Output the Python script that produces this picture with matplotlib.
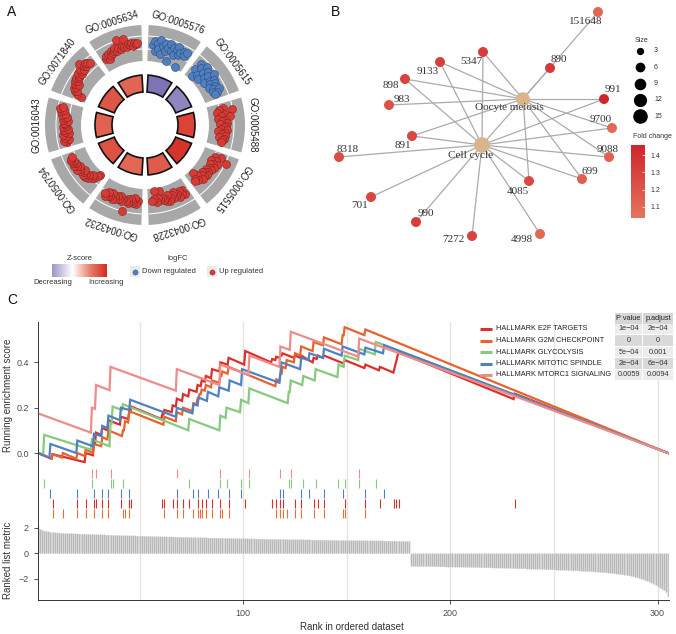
import numpy as np
import matplotlib
matplotlib.use('Agg')
import matplotlib.pyplot as plt
from matplotlib.patches import Wedge, Rectangle
from matplotlib.colors import LinearSegmentedColormap, Normalize

plt.rcParams['font.family'] = ['Liberation Sans', 'DejaVu Sans']

# ---------------- panel A: GO circle ----------------
go_terms = ['GO:0005576', 'GO:0005615', 'GO:0005488', 'GO:0005515', 'GO:0043228',
            'GO:0043232', 'GO:0050794', 'GO:0016043', 'GO:0071840', 'GO:0005634']
go_zscore = [-5.5, -4.8, 6.0, 6.6, 5.0, 4.6, 5.4, 4.8, 5.2, 4.7]
go_logfc = [
    [-1.5, -1.7, -1.3, -1.6, -1.4, -1.75, -1.2, -1.55, -1.65, -1.35, -1.5, -1.7, -1.0, -1.45, -1.6, -1.3,
     -1.55, -1.7, -1.4, -1.5, -0.9, -1.6, -1.45, -1.65],
    [-1.3, -1.6, -1.0, -1.5, -1.2, -1.7, -1.4, -1.1, -1.6, -1.3, -1.5, -1.75, -1.2, -1.45, -1.6, -1.35,
     -1.55, -1.25, -1.5, -1.4, -1.6, -1.3, -1.45, -1.35],
    [1.5, 1.3, 1.85, 1.2, 1.55, 1.35, 1.7, 1.25, 1.5, 1.4, 1.6, 1.3, 1.55, 1.45, 1.35, 1.6, 1.25, 1.5,
     1.4, 1.55, 1.3, 1.5, 1.45, 1.4],
    [1.6, 1.4, 1.9, 1.5, 1.3, 1.6, 1.45, 1.35, 1.55, 1.4, 1.5, 1.3, 1.45, 1.35, 1.5, 1.25, 1.4, 1.3,
     1.45, 1.2, 1.0, 1.35, 1.25, 1.3],
    [1.5, 1.3, 1.45, 1.25, 1.5, 1.35, 1.4, 1.2, 1.45, 1.3, 1.4, 1.5, 1.25, 1.45, 1.35, 1.4, 1.3, 1.0,
     1.35, 1.25, 1.4, 0.95, 1.3, 1.35],
    [1.35, 1.5, 1.25, 1.45, 1.4, 1.3, 1.5, 1.35, 1.45, 1.85, 1.4, 1.5, 1.3, 1.45, 1.35, 1.5, 1.4, 1.55,
     1.3, 1.45, 1.5, 1.35, 1.55, 1.45],
    [1.0, 1.1, 1.25, 1.3, 1.2, 1.4, 1.3, 1.45, 1.35, 1.5, 1.4, 1.3, 1.5, 1.45, 1.55, 1.35, 1.5, 1.6,
     1.45, 1.55, 1.5, 1.6, 1.55, 1.5],
    [1.5, 1.6, 1.4, 1.55, 1.45, 1.6, 1.35, 1.5, 1.55, 1.4, 1.6, 1.45, 1.5, 1.55, 1.4, 1.6, 1.5, 1.45,
     1.65, 1.55, 1.7, 1.6, 1.75, 1.65],
    [1.1, 1.3, 1.4, 1.35, 1.5, 1.45, 1.55, 1.4, 1.6, 1.5, 1.65, 1.55, 1.6, 1.7, 1.55, 1.65, 1.75, 1.6,
     1.9, 1.7, 1.65, 1.75, 1.7, 1.6],
    [1.35, 1.45, 1.3, 1.5, 1.4, 1.55, 1.45, 1.5, 1.6, 1.45, 1.55, 1.9, 1.5, 1.6, 1.55, 1.85, 1.5, 1.6,
     1.55, 1.65, 1.5, 1.6, 1.55, 1.6],
]

# ---------------- panel B: gene-concept network ----------------
gene_ids = ['151648', '5347', '890', '9133', '898', '983', '991', '9700', '891',
            '8318', '9088', '699', '4085', '701', '990', '7272', '4998']
gene_fc = [1.12, 1.33, 1.36, 1.32, 1.30, 1.22, 1.45, 1.10, 1.28,
           1.24, 1.14, 1.15, 1.27, 1.28, 1.33, 1.30, 1.10]
gene_x = [598, 483, 550, 440, 405, 389, 604, 612, 412, 339, 609, 582, 529, 371, 416, 472, 540]
gene_y = [12, 52, 68, 62, 79, 105, 99, 128, 136, 157, 157, 179, 181, 197, 222, 236, 234]
pathways = ['Oocyte meiosis', 'Cell cycle']
pathway_x = [523, 482]
pathway_y = [99, 145]
pathway_size = [11, 15]
oocyte_genes = ['151648', '5347', '9133', '898', '983', '991', '891', '9700', '9088', '699', '4085']
cellcycle_genes = ['890', '5347', '9133', '898', '891', '8318', '991', '9700', '9088', '699',
                   '4085', '701', '990', '7272', '4998']
size_legend = [3, 6, 9, 12, 15]
fc_ticks = [1.1, 1.2, 1.3, 1.4]

# ---------------- panel C: GSEA ----------------
set_names = ['HALLMARK E2F TARGETS', 'HALLMARK G2M CHECKPOINT', 'HALLMARK GLYCOLYSIS',
             'HALLMARK MITOTIC SPINDLE', 'HALLMARK MTORC1 SIGNALING']
p_values = ['1e\u221204', '0', '5e\u221204', '2e\u221204', '0.0059']
p_adjust = ['2e\u221204', '0', '0.001', '6e\u221204', '0.0094']

e2f_rank = [1, 7.5, 8, 23.5, 24, 27.5, 28, 28.5, 29, 31.5, 32, 34.5, 35, 40.5, 41, 44.5, 45, 45.5, 46,
            60.5, 61, 61.5, 62, 65.5, 66, 67.5, 68, 70.5, 71, 73.5, 74, 77.5, 78, 79.5, 80, 81.5, 82,
            84.5, 85, 88.5, 89, 92.5, 93, 100.5, 101, 113.5, 114, 115.5, 116, 117.5, 118, 118.5, 119,
            124.5, 125, 127.5, 128, 133.5, 134, 135.5, 136, 138.5, 139, 148.5, 149, 158.5, 159,
            165.5, 166, 172.5, 175, 230.5, 231, 305]
e2f_es = [0.0, -0.025, -0.005, -0.04, 0.0, -0.01, 0.04, 0.04, 0.09, 0.08, 0.11, 0.10, 0.145, 0.125, 0.16,
          0.15, 0.18, 0.18, 0.205, 0.15, 0.17, 0.17, 0.19, 0.18, 0.21, 0.205, 0.24, 0.23, 0.26, 0.25,
          0.28, 0.27, 0.30, 0.295, 0.32, 0.315, 0.34, 0.33, 0.37, 0.36, 0.40, 0.39, 0.42, 0.39, 0.45,
          0.40, 0.415, 0.41, 0.425, 0.42, 0.43, 0.43, 0.44, 0.42, 0.43, 0.42, 0.43, 0.40, 0.42, 0.415,
          0.43, 0.42, 0.43, 0.395, 0.41, 0.375, 0.39, 0.365, 0.38, 0.355, 0.445, 0.238, 0.262, 0.0]

g2m_rank = [1, 7.5, 8, 12.5, 13, 19.5, 20, 23.5, 24, 27.5, 28, 31.5, 32, 34.5, 35, 41.5, 42, 42.5, 43,
            44.5, 45, 61.5, 62, 67.5, 68, 70.5, 71, 75.5, 76, 77.5, 78, 78.5, 79, 79.5, 80, 81.5, 82,
            84.5, 85, 88.5, 89, 89.5, 90, 92.5, 93, 115.5, 116, 117.5, 118, 118.5, 119, 120.5, 121,
            124.5, 125, 127.5, 128, 133.5, 134, 138.5, 139, 147.5, 148, 148.5, 149, 158.5, 159, 305]
g2m_es = [0.0, -0.025, -0.005, -0.02, 0.0, -0.025, 0.0, -0.013, 0.015, 0.0, 0.04, 0.03, 0.07, 0.06, 0.10,
          0.075, 0.10, 0.10, 0.14, 0.135, 0.185, 0.125, 0.16, 0.14, 0.18, 0.17, 0.20, 0.185, 0.22,
          0.215, 0.24, 0.24, 0.26, 0.26, 0.28, 0.275, 0.30, 0.29, 0.32, 0.31, 0.34, 0.34, 0.36, 0.35,
          0.38, 0.295, 0.325, 0.32, 0.35, 0.35, 0.38, 0.375, 0.41, 0.40, 0.44, 0.43, 0.47, 0.45, 0.49,
          0.475, 0.51, 0.48, 0.52, 0.52, 0.555, 0.52, 0.545, 0.0]

glyco_rank = [1, 3.5, 4, 26.5, 27, 35.5, 36, 36.5, 37, 41.5, 42, 73.5, 74, 88.5, 89, 91.5, 92, 98.5, 99,
              102.5, 103, 121.5, 122, 122.5, 123, 128.5, 129, 134.5, 135, 145.5, 146, 148.5, 149,
              155.5, 156, 163.5, 164, 305]
glyco_es = [0.0, -0.005, 0.08, 0.015, 0.06, 0.03, 0.13, 0.13, 0.205, 0.19, 0.215, 0.10, 0.15, 0.10, 0.165,
            0.155, 0.20, 0.18, 0.235, 0.22, 0.285, 0.22, 0.27, 0.27, 0.32, 0.30, 0.34, 0.32, 0.37, 0.335,
            0.39, 0.38, 0.43, 0.41, 0.46, 0.435, 0.49, 0.0]

spindle_rank = [1, 6.5, 7, 19.5, 20, 27.5, 28, 31.5, 32, 34.5, 35, 40.5, 41, 45, 45.5, 67.5, 68, 75.5, 76,
                78, 78.5, 82.5, 83, 88, 88.5, 93, 93.5, 99, 99.5, 117.5, 118.5, 127.5, 128, 131.5, 132,
                138.5, 139, 147.5, 148, 158.5, 159, 167.5, 168, 305]
spindle_es = [0.0, -0.02, 0.04, 0.0, 0.055, 0.03, 0.085, 0.075, 0.12, 0.11, 0.165, 0.145, 0.20, 0.19,
              0.235, 0.16, 0.20, 0.175, 0.215, 0.21, 0.245, 0.23, 0.27, 0.25, 0.29, 0.275, 0.32, 0.30,
              0.37, 0.31, 0.40, 0.37, 0.42, 0.41, 0.44, 0.42, 0.46, 0.43, 0.47, 0.435, 0.465, 0.44,
              0.476, 0.0]

mtorc1_rank = [1, 26.5, 27, 28.5, 29, 35.5, 36, 67.5, 68, 88.5, 89, 102.5, 103, 117.5, 118, 122.5, 123,
               155.5, 156, 305]
mtorc1_es = [0.175, 0.09, 0.20, 0.195, 0.30, 0.277, 0.38, 0.275, 0.37, 0.30, 0.39, 0.345, 0.43, 0.38,
             0.47, 0.455, 0.535, 0.425, 0.505, 0.0]

mtorc1_hits = [27, 29, 36, 68, 89, 103, 118, 123, 156]
glyco_hits = [4, 27, 36, 37, 42, 74, 89, 92, 99, 103, 122, 123, 129, 135, 146, 149, 156, 164]
spindle_hits = [7, 20, 28, 32, 35, 41, 45, 68, 76, 78, 83, 88, 93, 99, 118, 119, 128, 132, 139, 148,
                159, 168]
e2f_hits = [8, 20, 24, 28, 29, 32, 35, 41, 45, 46, 61, 62, 66, 68, 71, 74, 78, 80, 82, 85, 89, 93, 101,
            114, 116, 118, 119, 125, 128, 134, 136, 139, 149, 159, 166, 173, 174, 175, 231]
g2m_hits = [8, 13, 20, 24, 28, 32, 35, 42, 43, 45, 62, 68, 71, 76, 78, 79, 80, 82, 85, 89, 90, 93, 116,
            118, 119, 121, 125, 128, 134, 139, 148, 149, 159]

ranked_metric = [
    2.10, 1.92, 1.83, 1.78, 1.74, 1.71, 1.68, 1.66, 1.64, 1.63,
    1.62, 1.61, 1.60, 1.59, 1.58, 1.57, 1.57, 1.56, 1.55, 1.55,
    1.54, 1.53, 1.53, 1.52, 1.52, 1.51, 1.50, 1.50, 1.49, 1.49,
    1.48, 1.47, 1.47, 1.46, 1.46, 1.45, 1.44, 1.44, 1.43, 1.43,
    1.42, 1.42, 1.41, 1.41, 1.40, 1.40, 1.39, 1.39, 1.38, 1.38,
    1.37, 1.37, 1.36, 1.36, 1.35, 1.35, 1.34, 1.34, 1.34, 1.33,
    1.33, 1.32, 1.32, 1.31, 1.31, 1.30, 1.30, 1.30, 1.29, 1.29,
    1.28, 1.28, 1.27, 1.27, 1.27, 1.26, 1.26, 1.25, 1.25, 1.25,
    1.24, 1.24, 1.23, 1.23, 1.23, 1.22, 1.22, 1.22, 1.21, 1.21,
    1.20, 1.20, 1.20, 1.19, 1.19, 1.19, 1.18, 1.18, 1.18, 1.17,
    1.17, 1.17, 1.16, 1.16, 1.16, 1.15, 1.15, 1.15, 1.14, 1.14,
    1.14, 1.13, 1.13, 1.13, 1.12, 1.12, 1.12, 1.12, 1.11, 1.11,
    1.11, 1.10, 1.10, 1.10, 1.10, 1.09, 1.09, 1.09, 1.08, 1.08,
    1.08, 1.08, 1.07, 1.07, 1.07, 1.07, 1.06, 1.06, 1.06, 1.06,
    1.05, 1.05, 1.05, 1.05, 1.04, 1.04, 1.04, 1.04, 1.03, 1.03,
    1.03, 1.03, 1.03, 1.02, 1.02, 1.02, 1.02, 1.01, 1.01, 1.01,
    1.01, 1.01, 1.00, 1.00, 1.00, 1.00, 1.00, 0.99, 0.99, 0.99,
    0.99, 0.99, 0.98, 0.98, 0.98, 0.98, 0.98, 0.97, 0.97, 0.97,
    -1.00, -1.00, -1.00, -1.01, -1.01, -1.01, -1.01, -1.02, -1.02, -1.02,
    -1.02, -1.03, -1.03, -1.03, -1.04, -1.04, -1.04, -1.05, -1.05, -1.05,
    -1.06, -1.06, -1.06, -1.07, -1.07, -1.07, -1.08, -1.08, -1.08, -1.09,
    -1.09, -1.09, -1.10, -1.10, -1.11, -1.11, -1.11, -1.12, -1.12, -1.13,
    -1.13, -1.13, -1.14, -1.14, -1.15, -1.15, -1.16, -1.16, -1.17, -1.17,
    -1.18, -1.18, -1.19, -1.19, -1.20, -1.20, -1.21, -1.21, -1.22, -1.22,
    -1.23, -1.23, -1.24, -1.25, -1.25, -1.26, -1.26, -1.27, -1.28, -1.28,
    -1.29, -1.30, -1.30, -1.31, -1.32, -1.32, -1.33, -1.34, -1.35, -1.35,
    -1.36, -1.37, -1.38, -1.39, -1.40, -1.41, -1.42, -1.43, -1.44, -1.45,
    -1.46, -1.47, -1.48, -1.50, -1.51, -1.53, -1.54, -1.56, -1.58, -1.60,
    -1.62, -1.64, -1.66, -1.69, -1.72, -1.75, -1.78, -1.82, -1.86, -1.90,
    -1.95, -2.00, -2.05, -2.11, -2.17, -2.24, -2.32, -2.40, -2.50, -2.60,
    -2.70, -2.80, -2.90, -3.05, -3.40,
]

# ---------------- figure ----------------
W, H = 676, 634
fig = plt.figure(figsize=(W / 100, H / 100), dpi=100)


def box(x0, y0, x1, y1):
    return [x0 / W, 1 - y1 / H, (x1 - x0) / W, (y1 - y0) / H]


over = fig.add_axes([0, 0, 1, 1], zorder=5)
over.set_xlim(0, W)
over.set_ylim(H, 0)
over.axis('off')

for lab, (x, y) in zip('ABC', [(12, 12), (335, 12), (12, 300)]):
    over.text(x, y, lab, fontsize=10, ha='center', va='center', color='#111111')

# ---- A ----
axA = fig.add_axes(box(0, -5, 290, 255))
axA.set_xlim(-145, 145)
axA.set_ylim(-130, 130)
axA.axis('off')

zcmap = LinearSegmentedColormap.from_list('z', [(0, '#5b4ea0'), (0.5, '#ffffff'),
                                                (0.75, '#e8836c'), (1, '#d42a20')])
znorm = Normalize(-7, 7)
band_gap = 4.2
ring_gap = 7.0
for i, term in enumerate(go_terms):
    a_hi = 90 - 36 * i
    a_lo = 90 - 36 * (i + 1)
    for r_out, wd in [(100, 10.5), (88.5, 12), (75.5, 11.5)]:
        axA.add_patch(Wedge((0, 0), r_out, a_lo + band_gap / 2, a_hi - band_gap / 2, width=wd,
                            facecolor='#a8a8a8', edgecolor='none'))
    axA.add_patch(Wedge((0, 0), 50, a_lo + ring_gap / 2, a_hi - ring_gap / 2, width=17,
                        facecolor=zcmap(znorm(go_zscore[i])), edgecolor='#111111', lw=1.2))
    vals = np.array(go_logfc[i])
    ang = np.radians(np.linspace(a_hi - band_gap / 2 - 3.5, a_lo + band_gap / 2 + 3.5, len(vals)))
    rad = 55 + (np.abs(vals) - 0.5) * 25
    down = vals < 0
    axA.scatter(rad[down] * np.cos(ang[down]), rad[down] * np.sin(ang[down]), s=33,
                c='#4f7fc0', edgecolors='#2c4d7d', linewidths=0.4, zorder=3)
    axA.scatter(rad[~down] * np.cos(ang[~down]), rad[~down] * np.sin(ang[~down]), s=33,
                c='#d93a35', edgecolors='#7d2420', linewidths=0.4, zorder=3)
    mid = (a_hi + a_lo) / 2
    axA.text(103 * np.cos(np.radians(mid)), 103 * np.sin(np.radians(mid)), term,
             rotation=mid - 90, rotation_mode='anchor', ha='center', va='bottom',
             fontsize=7, color='#222222')

# A legend
over.text(80, 258, 'Z-score', fontsize=5.5, ha='center', va='center', color='#333333')
axZ = fig.add_axes(box(52, 264, 107, 277))
axZ.imshow(np.linspace(0.2, 1.0, 256)[None, :], cmap=zcmap, aspect='auto', vmin=0, vmax=1)
axZ.axis('off')
over.text(53, 283, 'Decreasing', fontsize=5.5, ha='center', va='center', color='#333333')
over.text(106, 283, 'Increasing', fontsize=5.5, ha='center', va='center', color='#333333')
over.text(178, 258, 'logFC', fontsize=5.5, ha='center', va='center', color='#333333')
for kx, col, ec, txt in [(135, '#4f7fc0', '#2c4d7d', 'Down regulated'),
                         (212, '#d93a35', '#7d2420', 'Up regulated')]:
    over.add_patch(Rectangle((kx - 5, 266), 10, 11, facecolor='#ebebeb', edgecolor='none'))
    over.scatter([kx], [271.5], s=14, c=col, edgecolors=ec, linewidths=0.3, zorder=6)
    over.text(kx + 7, 271.5, txt, fontsize=5.5, ha='left', va='center', color='#333333')

# ---- B ----
fc_cmap = LinearSegmentedColormap.from_list('fc', ['#e4755f', '#d0252a'])
fc_norm = Normalize(1.036, 1.458)
pos = {g: (x, y) for g, x, y in zip(gene_ids, gene_x, gene_y)}
for pw, genes in zip(pathways, [oocyte_genes, cellcycle_genes]):
    k = pathways.index(pw)
    for g in genes:
        over.plot([pathway_x[k], pos[g][0]], [pathway_y[k], pos[g][1]], color='#ababab',
                  lw=0.9, zorder=1)
over.scatter(pathway_x, pathway_y, s=np.array(pathway_size) * 7, c='#dab58b', zorder=3)
over.scatter(gene_x, gene_y, s=38, c=[fc_cmap(fc_norm(v)) for v in gene_fc], zorder=3)

label_offset = {'151648': (-12, 9), '5347': (-12, 9), '890': (9, -8), '9133': (-12, 9),
                '898': (-14, 7), '983': (13, -5), '991': (9, -9), '9700': (-11, -8),
                '891': (-9, 10), '8318': (9, -8), '9088': (-1, -8), '699': (8, -8),
                '4085': (-11, 10), '701': (-11, 9), '990': (10, -8), '7272': (-19, 4),
                '4998': (-18, 6), 'Oocyte meiosis': (-14, 9), 'Cell cycle': (-11, 10)}
serif = ['Liberation Serif', 'DejaVu Serif']
for g, x, y in zip(gene_ids, gene_x, gene_y):
    dx, dy = label_offset[g]
    over.text(x + dx, y + dy, g, fontsize=8, family=serif, ha='center', va='center',
              color='#333333', zorder=4)
for pw, x, y in zip(pathways, pathway_x, pathway_y):
    dx, dy = label_offset[pw]
    over.text(x + dx, y + dy, pw, fontsize=8, family=serif, ha='center', va='center',
              color='#333333', zorder=4)

# B legends
over.text(642, 40, 'Size', fontsize=5, ha='center', va='center', color='#333333')
for k, sz in enumerate(size_legend):
    yy = 51 + k * 16.3
    over.scatter([640], [yy], s=sz * 6, c='black', zorder=6)
    over.text(654, yy, str(sz), fontsize=5, ha='left', va='center', color='#333333')
over.text(652, 136, 'Fold change', fontsize=5, ha='center', va='center', color='#333333')
axF = fig.add_axes(box(631, 145, 645, 218))
axF.imshow(np.linspace(1.036, 1.458, 256)[:, None], cmap=fc_cmap, norm=fc_norm, aspect='auto',
           origin='lower', extent=(0, 1, 1.036, 1.458))
axF.hlines(fc_ticks, 0.78, 1.0, color='white', lw=0.5)
axF.set_xlim(0, 1)
axF.set_ylim(1.036, 1.458)
axF.set_xticks([])
axF.set_yticks(fc_ticks)
axF.yaxis.tick_right()
axF.tick_params(axis='y', length=0, labelsize=5, labelcolor='#333333', pad=4)
for s in axF.spines.values():
    s.set_visible(False)

# ---- C ----
set_colors = ['#da302c', '#e8622c', '#86c97f', '#4f81c2', '#ee8b8b']
xl = (1, 305.5)
axE = fig.add_axes(box(38, 322, 669, 468))
axR = fig.add_axes(box(38, 468, 669, 523))
axM = fig.add_axes(box(38, 523, 669, 600))
for ax in (axE, axR, axM):
    ax.set_xlim(*xl)
    ax.vlines(np.arange(50, 301, 50), -10, 10, color='#e6e4de', lw=1.0, zorder=0)
    for side in ('top', 'right', 'bottom'):
        ax.spines[side].set_visible(False)
    ax.spines['left'].set_linewidth(0.7)
    ax.spines['left'].set_color('#333333')
    ax.tick_params(length=3, width=0.6, color='#333333', labelsize=6.5, labelcolor='#4d4d4d')
    ax.set_xticks([])

curves = [(e2f_rank, e2f_es), (g2m_rank, g2m_es), (glyco_rank, glyco_es),
          (spindle_rank, spindle_es), (mtorc1_rank, mtorc1_es)]
for (rk, es), col in zip(curves, set_colors):
    axE.plot(rk, es, color=col, lw=1.6, solid_joinstyle='miter', zorder=2)
axE.set_ylim(-0.066, 0.578)
axE.set_yticks([0.0, 0.2, 0.4])
axE.set_yticklabels(['0.0', '0.2', '0.4'])

rug_rows = [(mtorc1_hits, set_colors[4]), (glyco_hits, set_colors[2]),
            (spindle_hits, set_colors[3]), (e2f_hits, set_colors[0]), (g2m_hits, '#e6703a')]
for row, (hits, col) in enumerate(rug_rows):
    axR.vlines(hits, row + 0.1, row + 0.95, color=col, lw=0.8)
axR.set_ylim(5.5, 0)
axR.set_yticks([])

ranks = np.arange(1, len(ranked_metric) + 1)
axM.fill_between(ranks, 0, ranked_metric, step='mid', color='#d6d6d6', linewidth=0, zorder=1)
axM.vlines(ranks, 0, ranked_metric, color='#a9a9a9', lw=0.45, zorder=2)
axM.set_ylim(-3.68, 2.37)
axM.set_yticks([-2, 0, 2])
axM.spines['bottom'].set_visible(True)
axM.spines['bottom'].set_linewidth(0.7)
axM.spines['bottom'].set_color('#333333')
axM.set_xticks([100, 200, 300])

fig.text(8 / W, 1 - 395 / H, 'Running enrichment score', rotation=90, fontsize=7,
         ha='center', va='center', color='#333333')
fig.text(8 / W, 1 - 560 / H, 'Ranked list metric', rotation=90, fontsize=7,
         ha='center', va='center', color='#333333')
fig.text(352 / W, 1 - 627 / H, 'Rank in ordered dataset', fontsize=7,
         ha='center', va='center', color='#333333')

# C legend and table
for k, (name, col) in enumerate(zip(set_names, set_colors)):
    yy = 329 + k * 11.5
    over.plot([480, 492], [yy, yy], color=col, lw=2.2, solid_capstyle='butt')
    over.text(496, yy, name, fontsize=5.3, ha='left', va='center', color='#222222')
cols = [(615, 642), (643, 673)]
for c, (x0, x1) in enumerate(cols):
    over.add_patch(Rectangle((x0, 312.5), x1 - x0, 11, facecolor='#d6d6d6', edgecolor='none'))
    over.text((x0 + x1) / 2, 318, ['P value', 'p.adjust'][c], fontsize=5.3, ha='center',
              va='center', color='#222222')
    for k, txt in enumerate([p_values, p_adjust][c]):
        yy = 329 + k * 11.5
        fc = '#ececec' if k % 2 == 0 else '#dadada'
        over.add_patch(Rectangle((x0, yy - 5.25), x1 - x0, 10.5, facecolor=fc, edgecolor='none'))
        over.text((x0 + x1) / 2, yy, txt, fontsize=5.3, ha='center', va='center', color='#333333')

fig.savefig('out.png', dpi=100)
